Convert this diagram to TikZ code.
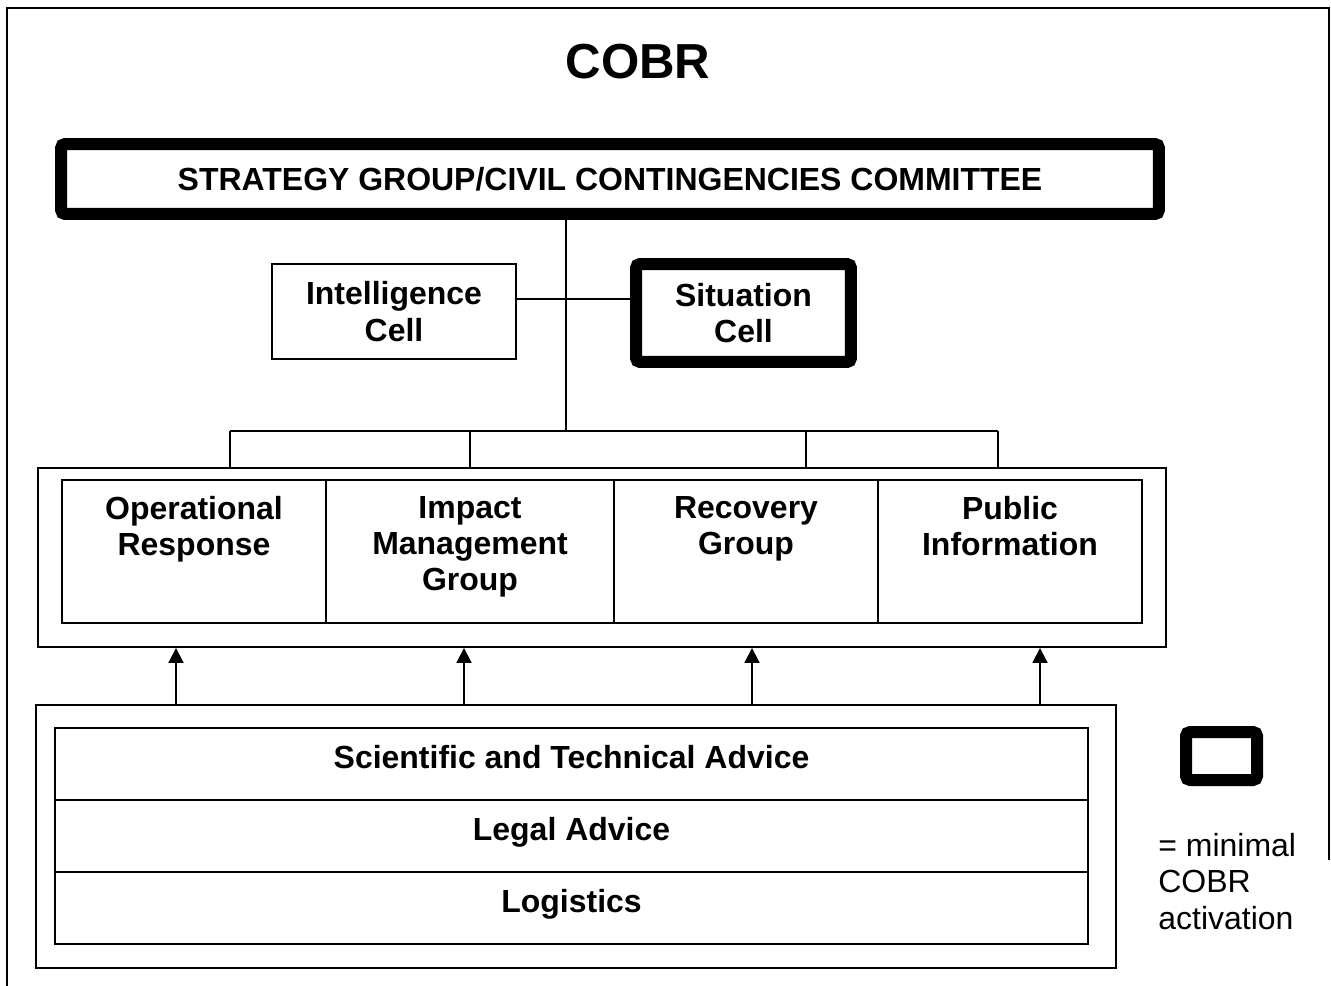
\documentclass[tikz,border=0pt]{standalone}
\usepackage{fontspec}
\setmainfont{Liberation Sans}
\usetikzlibrary{arrows.meta}
\begin{document}
\begin{tikzpicture}[x=0.02cm, y=-0.02cm,
        box/.style={draw, line width=1.1pt, inner sep=0pt},
        heavy/.style={draw, line width=0.24cm, rounded corners=0.08cm, inner sep=0pt},
        txt/.style={font=\bfseries\fontsize{18.2}{20.6}\selectfont, align=center},
        capt/.style={label={[txt, anchor=north, inner sep=0pt, yshift=-0.34cm]north:{#1}}},
        arr/.style={line width=1.1pt, -{Triangle[length=0.3cm, width=0.3cm]}}]
    \useasboundingbox (0,0) rectangle (1331,986);
    \draw[line width=1.1pt] (7,990) -- (7,8) -- (1329,8) -- (1329,860);

    \node[font=\bfseries\fontsize{28}{32}\selectfont] (title) at (638,62) {COBR};
    \node[heavy, txt, minimum width=21.96cm, minimum height=1.4cm] (strat) at (610,179)
        {STRATEGY GROUP/CIVIL CONTINGENCIES COMMITTEE};
    \node[box, txt, minimum width=4.88cm, minimum height=1.9cm] (intel) at (394,311.5) {Intelligence\\Cell};
    \node[heavy, txt, minimum width=4.3cm, minimum height=1.96cm] (sit) at (743.5,313) {Situation\\Cell};

    % response groups
    \node[box, minimum width=22.56cm, minimum height=3.58cm] (grp) at (602,557.5) {};
    \node[box, minimum width=5.28cm, minimum height=2.86cm, capt={Operational\\Response}] (oper) at (194,551.5) {};
    \node[box, minimum width=5.76cm, minimum height=2.86cm, capt={Impact\\Management\\Group}] (impact) at (470,551.5) {};
    \node[box, minimum width=5.28cm, minimum height=2.86cm, capt={Recovery\\Group}] (recov) at (746,551.5) {};
    \node[box, minimum width=5.28cm, minimum height=2.86cm, capt={Public\\Information}] (public) at (1010,551.5) {};

    % advice
    \node[box, minimum width=21.6cm, minimum height=5.26cm] (supp) at (576,836.5) {};
    \node[box, txt, text depth=0.27cm, minimum width=20.66cm, minimum height=1.44cm] (sci) at (571.5,764) {Scientific and Technical Advice};
    \node[box, txt, text depth=0.27cm, minimum width=20.66cm, minimum height=1.44cm] (legal) at (571.5,836) {Legal Advice};
    \node[box, txt, text depth=0.27cm, minimum width=20.66cm, minimum height=1.44cm] (logi) at (571.5,908) {Logistics};

    \node[heavy, minimum width=1.42cm, minimum height=0.96cm] (key) at (1221.5,756) {};
    \node[font=\fontsize{18.2}{20.7}\selectfont, align=left, anchor=north west, inner sep=0pt] (keytxt) at (1158,833)
        {= minimal\\COBR\\activation};

    \coordinate (hub) at (566,299);
    \coordinate (bar) at (566,431);
    \coordinate (d1) at (230,431);
    \coordinate (d2) at (470,431);
    \coordinate (d3) at (806,431);
    \coordinate (d4) at (998,431);
    \coordinate (a1) at (176,705);
    \coordinate (a2) at (464,705);
    \coordinate (a3) at (752,705);
    \coordinate (a4) at (1040,705);

    \draw[line width=1.1pt] (strat.south -| bar) -- (bar);
    \draw[line width=1.1pt] (intel.east |- hub) -- (sit.west |- hub);
    \draw[line width=1.1pt] (d1) -- (d4);
    \draw[line width=1.1pt] (d1) -- (d1 |- grp.north);
    \draw[line width=1.1pt] (d2) -- (d2 |- grp.north);
    \draw[line width=1.1pt] (d3) -- (d3 |- grp.north);
    \draw[line width=1.1pt] (d4) -- (d4 |- grp.north);

    \draw[arr] (a1) -- (a1 |- grp.south);
    \draw[arr] (a2) -- (a2 |- grp.south);
    \draw[arr] (a3) -- (a3 |- grp.south);
    \draw[arr] (a4) -- (a4 |- grp.south);
\end{tikzpicture}
\end{document}
